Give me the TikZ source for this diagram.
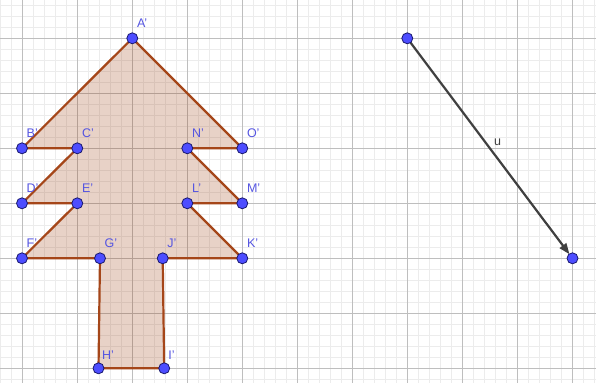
\documentclass[tikz,border=0pt]{standalone}
\usepackage{fontspec}
\setmainfont{Liberation Sans}
\usetikzlibrary{arrows.meta}
\definecolor{ptfill}{RGB}{77,77,255}
\definecolor{ptline}{RGB}{25,25,110}
\definecolor{labcol}{RGB}{85,85,225}
\definecolor{polycol}{RGB}{153,51,0}
\definecolor{edgecol}{RGB}{165,70,25}
\definecolor{vecol}{RGB}{64,64,64}
\definecolor{majgrid}{RGB}{190,190,190}
\definecolor{mingrid}{RGB}{236,236,236}
\begin{document}
\begin{tikzpicture}[x=1pt,y=-1pt,
  pt/.style={circle,inner sep=0pt,minimum size=11pt,fill=ptfill,draw=ptline,line width=0.8pt},
  lab/.style={anchor=base west,inner sep=0pt,text=labcol,font=\fontsize{12.5}{13}\selectfont},
  vlab/.style={anchor=base west,inner sep=0pt,text=vecol,font=\fontsize{12.5}{13}\selectfont},
  polyedge/.style={draw=edgecol,line width=2.2pt,line join=round,line cap=round},
  polyfill/.style={fill=polycol,fill opacity=0.22},
  vec/.style={draw=vecol,line width=2.2pt,-{Triangle[length=11pt,width=8pt]}},
  minorline/.style={draw=mingrid,line width=0.8pt},
  majorline/.style={draw=majgrid,line width=1pt}]
\useasboundingbox (0,0) rectangle (596,383);
\fill[white] (0,0) rectangle (596,383);
% grid
\begin{scope}
\clip (0,0) rectangle (596,383);
\foreach \i in {0,...,54} {\draw[minorline] ({\i*11},0) -- ({\i*11},383);}
\foreach \i in {0,...,34} {\draw[minorline] (0,{5.3+\i*11}) -- (596,{5.3+\i*11});}
\foreach \i in {0,...,10} {\draw[majorline] ({22+\i*55},0) -- ({22+\i*55},383);}
\foreach \i in {0,...,6} {\draw[majorline] (0,{38.3+\i*55}) -- (596,{38.3+\i*55});}
\end{scope}
% vertices
\coordinate (A) at (132.3,38.3);
\coordinate (B) at (22,148.3);
\coordinate (C) at (77.3,148.3);
\coordinate (N) at (187.3,148.3);
\coordinate (O) at (242.3,148.3);
\coordinate (D) at (22,203.3);
\coordinate (E) at (77.3,203.3);
\coordinate (L) at (187.3,203.3);
\coordinate (M) at (242.3,203.3);
\coordinate (F) at (22,258.3);
\coordinate (G) at (100,258.3);
\coordinate (J) at (162.7,258.3);
\coordinate (K) at (242.3,258.3);
\coordinate (H) at (98.5,368.3);
\coordinate (I) at (164.2,368.3);
\coordinate (P) at (407.3,38.3);
\coordinate (Q) at (572.5,258.3);
% polygon
\path[polyfill] (A) -- (O) -- (N) -- (M) -- (L) -- (K) -- (J) -- (I) -- (H) -- (G) -- (F) -- (E) -- (D) -- (C) -- (B) -- cycle;
\draw[polyedge] (A) -- (O) -- (N) -- (M) -- (L) -- (K) -- (J) -- (I) -- (H) -- (G) -- (F) -- (E) -- (D) -- (C) -- (B) -- cycle;
% vector
\draw[vec,shorten >=5pt] (P) -- (Q);
\node[vlab] (lu) at (494,145.7) {u};
% points
\foreach \p in {A,B,C,D,E,F,G,H,I,J,K,L,M,N,O,P,Q} {\node[pt] (p\p) at (\p) {};}
% labels
\foreach \p in {A,B,C,D,E,F,G,J,K,L,M,N,O} {\node[lab] (l\p) at ([shift={(4.5,-10.5)}]\p) {\p'};}
\node[lab] (lH) at ([shift={(3.5,-8.5)}]H) {H'};
\node[lab] (lI) at ([shift={(4,-8.5)}]I) {I'};
\end{tikzpicture}
\end{document}
